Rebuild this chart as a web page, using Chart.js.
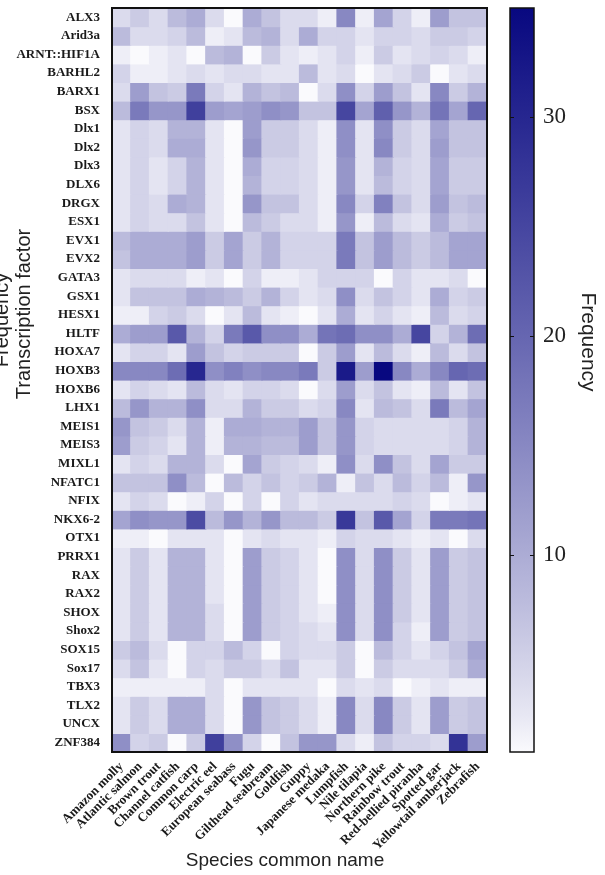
<!DOCTYPE html>
<html>
<head>
<meta charset="utf-8">
<script src="https://cdn.jsdelivr.net/npm/chart.js@4.4.1/dist/chart.umd.min.js"></script>
<style>
html, body { margin: 0; padding: 0; background: #fff; }
#wrap { width: 605px; height: 875px; }
</style>
</head>
<body>
<div id="wrap"><canvas id="heat"></canvas></div>
<script>
// columns of the heat map
var species = ['Amazon molly', 'Atlantic salmon', 'Brown trout', 'Channel catfish', 'Common carp',
  'Electric eel', 'European seabass', 'Fugu', 'Gilthead seabream', 'Goldfish', 'Guppy',
  'Japanese medaka', 'Lumpfish', 'Nile tilapia', 'Northern pike', 'Rainbow trout',
  'Red-bellied piranha', 'Spotted gar', 'Yellowtail amberjack', 'Zebrafish'];

// rows, top to bottom
var factors = ['ALX3', 'Arid3a', 'ARNT::HIF1A', 'BARHL2', 'BARX1', 'BSX', 'Dlx1', 'Dlx2', 'Dlx3',
  'DLX6', 'DRGX', 'ESX1', 'EVX1', 'EVX2', 'GATA3', 'GSX1', 'HESX1', 'HLTF', 'HOXA7', 'HOXB3',
  'HOXB6', 'LHX1', 'MEIS1', 'MEIS3', 'MIXL1', 'NFATC1', 'NFIX', 'NKX6-2', 'OTX1', 'PRRX1', 'RAX',
  'RAX2', 'SHOX', 'Shox2', 'SOX15', 'Sox17', 'TBX3', 'TLX2', 'UNCX', 'ZNF384'];

// frequency, one row per factor, one value per species
var frequency = [
  [4, 6, 4, 8, 10, 4, 1, 10, 7, 4, 4, 2, 15, 2, 11, 5, 2, 12, 7, 7],     // ALX3
  [8, 4, 4, 5, 8, 2, 3, 8, 9, 4, 10, 5, 5, 3, 5, 5, 4, 6, 6, 5],          // Arid3a
  [2, 1, 2, 3, 1, 8, 9, 1, 6, 3, 2, 3, 5, 2, 6, 3, 4, 5, 4, 2],           // ARNT::HIF1A
  [5, 2, 2, 3, 4, 3, 4, 4, 3, 3, 8, 3, 4, 1, 3, 4, 6, 1, 3, 4],           // BARHL2
  [4, 12, 7, 6, 17, 5, 3, 9, 7, 8, 1, 4, 14, 5, 12, 7, 3, 15, 6, 9],      // BARX1
  [8, 17, 13, 13, 26, 12, 11, 12, 14, 13, 7, 7, 25, 11, 21, 13, 9, 18, 11, 20], // BSX
  [3, 5, 4, 9, 9, 3, 1, 12, 6, 6, 4, 2, 14, 3, 14, 6, 4, 11, 7, 7],       // Dlx1
  [3, 5, 4, 10, 10, 3, 1, 13, 6, 6, 4, 2, 14, 3, 15, 6, 4, 12, 7, 7],     // Dlx2
  [3, 5, 3, 5, 9, 3, 1, 10, 5, 5, 4, 2, 13, 3, 9, 5, 4, 11, 6, 6],        // Dlx3
  [3, 5, 3, 5, 9, 3, 1, 9, 5, 5, 4, 2, 13, 3, 8, 5, 4, 11, 6, 6],         // DLX6
  [3, 5, 4, 10, 9, 3, 1, 13, 7, 7, 4, 2, 15, 5, 16, 7, 4, 12, 7, 8],      // DRGX
  [3, 5, 4, 4, 7, 3, 1, 8, 6, 4, 4, 2, 13, 2, 8, 4, 3, 10, 6, 7],         // ESX1
  [8, 10, 10, 10, 12, 6, 11, 6, 9, 5, 5, 5, 17, 7, 12, 8, 6, 8, 11, 11],  // EVX1
  [7, 10, 10, 10, 12, 6, 11, 6, 9, 5, 5, 5, 17, 7, 12, 8, 6, 8, 11, 11],  // EVX2
  [3, 4, 4, 4, 2, 3, 1, 5, 2, 2, 3, 5, 5, 5, 1, 5, 3, 3, 4, 1],           // GATA3
  [3, 7, 7, 7, 10, 9, 8, 6, 9, 5, 3, 4, 14, 4, 7, 5, 3, 10, 5, 6],        // GSX1
  [2, 2, 5, 6, 4, 1, 3, 8, 3, 2, 1, 3, 10, 3, 5, 3, 2, 8, 4, 5],          // HESX1
  [10, 12, 12, 22, 9, 5, 17, 22, 14, 14, 10, 18, 19, 14, 14, 10, 25, 5, 9, 19], // HLTF
  [3, 5, 5, 3, 12, 7, 5, 6, 6, 6, 1, 6, 12, 3, 8, 4, 2, 8, 4, 7],         // HOXA7
  [15, 15, 15, 19, 30, 14, 16, 14, 15, 15, 17, 6, 32, 12, 35, 15, 10, 15, 20, 19], // HOXB3
  [3, 5, 4, 3, 8, 4, 3, 5, 5, 4, 1, 4, 12, 4, 7, 3, 2, 8, 3, 7],          // HOXB6
  [8, 13, 9, 9, 14, 4, 4, 9, 6, 6, 4, 5, 15, 3, 8, 7, 4, 17, 8, 11],      // LHX1
  [13, 7, 6, 4, 9, 2, 10, 10, 9, 9, 12, 7, 13, 5, 4, 4, 4, 4, 5, 9],      // MEIS1
  [12, 6, 5, 3, 9, 2, 9, 9, 8, 8, 12, 7, 13, 5, 4, 4, 4, 4, 5, 9],        // MEIS3
  [3, 5, 4, 9, 9, 4, 1, 11, 6, 5, 4, 2, 14, 4, 14, 7, 4, 11, 6, 6],       // MIXL1
  [7, 7, 7, 14, 8, 1, 8, 5, 7, 5, 6, 9, 2, 7, 4, 8, 5, 8, 2, 13],         // NFATC1
  [3, 5, 4, 1, 2, 5, 1, 5, 1, 5, 3, 4, 4, 4, 4, 5, 4, 1, 2, 3],           // NFIX
  [11, 14, 13, 13, 24, 8, 13, 9, 13, 8, 8, 6, 27, 7, 22, 11, 5, 17, 17, 18], // NKX6-2
  [2, 2, 1, 3, 3, 3, 1, 3, 4, 3, 3, 2, 5, 4, 4, 3, 2, 3, 1, 4],           // OTX1
  [3, 6, 3, 9, 9, 3, 1, 12, 6, 5, 3, 1, 14, 4, 14, 6, 3, 12, 6, 7],       // PRRX1
  [3, 6, 3, 9, 9, 3, 1, 12, 6, 5, 3, 1, 14, 4, 14, 6, 3, 12, 6, 7],       // RAX
  [3, 6, 3, 9, 9, 3, 1, 12, 6, 5, 3, 1, 14, 4, 14, 6, 3, 12, 6, 7],       // RAX2
  [3, 6, 3, 9, 9, 4, 1, 12, 6, 5, 3, 2, 14, 4, 14, 6, 3, 12, 6, 7],       // SHOX
  [3, 6, 3, 9, 9, 4, 1, 12, 6, 5, 4, 3, 14, 4, 14, 5, 2, 12, 6, 7],       // Shox2
  [6, 8, 4, 1, 5, 5, 8, 5, 1, 5, 4, 4, 6, 1, 8, 5, 3, 5, 7, 11],          // SOX15
  [4, 7, 3, 1, 5, 4, 6, 6, 4, 7, 3, 3, 6, 1, 6, 4, 4, 4, 6, 10],          // Sox17
  [2, 2, 2, 2, 2, 4, 1, 3, 3, 3, 3, 1, 4, 3, 4, 1, 2, 3, 2, 2],           // TBX3
  [3, 6, 4, 10, 10, 4, 1, 13, 7, 6, 4, 2, 15, 4, 15, 6, 3, 12, 6, 7],     // TLX2
  [3, 6, 4, 10, 10, 4, 1, 13, 7, 6, 4, 2, 15, 4, 15, 6, 3, 12, 6, 7],     // UNCX
  [14, 5, 6, 1, 6, 26, 14, 5, 1, 7, 13, 13, 4, 2, 7, 5, 5, 4, 28, 12]     // ZNF384
];

// colour bar
var cbMin = 1, cbMax = 35;
var cbTicks = [10, 20, 30];

var lowColor = [250, 250, 253];
var highColor = [8, 8, 128];

function colorFor(v) {
  var t = (v - cbMin) / (cbMax - cbMin);
  t = Math.pow(Math.max(0, Math.min(1, t)), 0.85);
  var c = lowColor.map(function(l, k) { return Math.round(l + (highColor[k] - l) * t); });
  return 'rgb(' + c.join(',') + ')';
}

var datasets = factors.map(function(f, i) {
  return {
    label: f,
    data: species.map(function() { return 1; }),
    backgroundColor: frequency[i].map(colorFor),
    borderWidth: 0,
    barPercentage: 1,
    categoryPercentage: 1,
    inflateAmount: 0.6
  };
});

var serifBold = { family: "'Liberation Serif', 'DejaVu Serif', serif", size: 13, weight: 'bold' };
var hidden = 'rgba(0,0,0,0)';

var extras = {
  id: 'extras',
  afterDraw: function(chart) {
    var ctx = chart.ctx, a = chart.chartArea, cb = chart.scales.cbar;
    ctx.save();

    // frame round the heat map
    ctx.strokeStyle = '#111';
    ctx.lineWidth = 2;
    ctx.strokeRect(a.left, a.top, a.right - a.left, a.bottom - a.top);

    // colour bar
    var barL = a.right + 23, barW = 24;
    var top = cb.getPixelForValue(cbMax), bot = cb.getPixelForValue(cbMin);
    var g = ctx.createLinearGradient(0, bot, 0, top);
    for (var k = 0; k <= 20; k++) {
      g.addColorStop(k / 20, colorFor(cbMin + (cbMax - cbMin) * k / 20));
    }
    ctx.fillStyle = g;
    ctx.fillRect(barL, top, barW, bot - top);
    ctx.lineWidth = 1.5;
    ctx.strokeRect(barL, top, barW, bot - top);
    ctx.lineWidth = 1.2;
    cbTicks.forEach(function(v) {
      var y = Math.round(cb.getPixelForValue(v)) + 0.5;
      ctx.beginPath();
      ctx.moveTo(barL, y); ctx.lineTo(barL + 4, y);
      ctx.moveTo(barL + barW - 4, y); ctx.lineTo(barL + barW, y);
      ctx.stroke();
    });

    // axis titles
    ctx.fillStyle = '#222';
    ctx.font = "19px 'Liberation Sans', Arial, sans-serif";
    ctx.textAlign = 'center';
    ctx.textBaseline = 'middle';
    ctx.fillText('Species common name', 285, 861);

    ctx.font = "20px 'Liberation Sans', Arial, sans-serif";
    ctx.save();
    ctx.translate(24, 314);
    ctx.rotate(-Math.PI / 2);
    ctx.fillText('Transcription factor', 0, 0);
    ctx.restore();

    // clipped copy of a title at the far left edge, as in the source figure
    ctx.save();
    ctx.translate(2, 320);
    ctx.rotate(-Math.PI / 2);
    ctx.fillText('Frequency', 0, 0);
    ctx.restore();

    ctx.font = "21px 'Liberation Sans', Arial, sans-serif";
    ctx.save();
    ctx.translate(588, 342);
    ctx.rotate(Math.PI / 2);
    ctx.fillText('Frequency', 0, 0);
    ctx.restore();

    ctx.restore();
  }
};

new Chart(document.getElementById('heat'), {
  type: 'bar',
  data: { labels: species, datasets: datasets },
  options: {
    responsive: true,
    maintainAspectRatio: false,
    animation: false,
    layout: { padding: { top: 8, left: 0, right: 0, bottom: 0 } },
    plugins: { legend: { display: false }, tooltip: { enabled: false } },
    scales: {
      x: {
        stacked: true,
        grid: { display: false, drawTicks: false },
        border: { display: false },
        ticks: {
          autoSkip: false, maxRotation: 45, minRotation: 45, padding: 7,
          color: '#1a1a1a', font: serifBold
        },
        afterFit: function(s) { s.height = 123; }
      },
      y: {
        stacked: true,
        reverse: true,
        min: 0,
        max: factors.length,
        grid: { display: true, drawOnChartArea: false, drawTicks: true, tickLength: 12, color: hidden },
        border: { display: false },
        afterBuildTicks: function(s) {
          s.ticks = factors.map(function(f, i) { return { value: i + 0.5 }; });
        },
        ticks: {
          autoSkip: false, padding: 0, color: '#1a1a1a', font: serifBold,
          callback: function(v) { return factors[Math.floor(v)]; }
        },
        afterFit: function(s) { s.width = 112; s.paddingTop = 0; s.paddingBottom = 0; }
      },
      cbar: {
        type: 'linear',
        position: 'right',
        min: cbMin,
        max: cbMax,
        grid: { display: true, drawOnChartArea: false, drawTicks: true, tickLength: 56, color: hidden },
        border: { display: false },
        afterBuildTicks: function(s) {
          s.ticks = cbTicks.map(function(v) { return { value: v }; });
        },
        ticks: {
          padding: 0, color: '#222',
          font: { family: "'Liberation Serif', 'DejaVu Serif', serif", size: 23 }
        },
        afterFit: function(s) { s.width = 118; s.paddingTop = 0; s.paddingBottom = 0; }
      }
    }
  },
  plugins: [extras]
});
</script>
</body>
</html>
